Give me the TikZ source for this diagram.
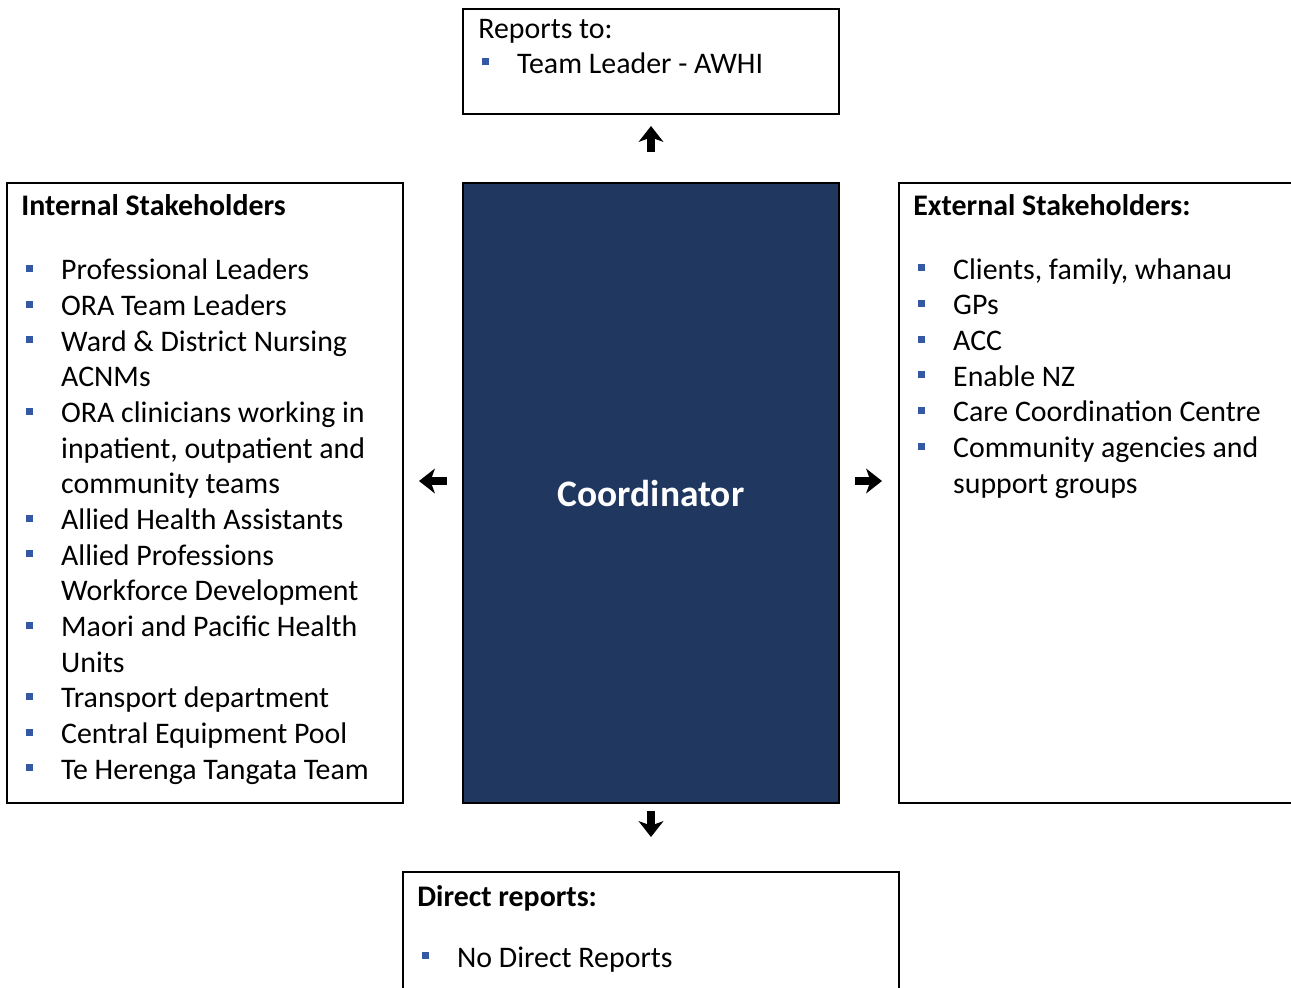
\documentclass[tikz,border=0pt]{standalone}
\usepackage{fontspec}
\setmainfont{Carlito}
\usetikzlibrary{arrows.meta}
\definecolor{navy}{HTML}{20375F}
\definecolor{bulletblue}{HTML}{3558A5}
\newcommand{\sqb}{\makebox[20.4pt][l]{\hspace*{0.3pt}\textcolor{bulletblue}{\rule[4.3pt]{4pt}{4pt}}}}
\newcommand{\hang}{\hspace*{20.4pt}}
\begin{document}
\begin{tikzpicture}[x=0.02cm,y=-0.02cm,
    box/.style={draw=black, line width=1.3pt},
    txt/.style={anchor=base west, inner sep=0pt, align=left,
      font=\fontsize{17pt}{20.3pt}\selectfont},
    bigarrow/.style={line width=4pt,
      -{Stealth[length=9pt,width=14pt,inset=2.5pt]}}]
  \useasboundingbox (0,0) rectangle (1291,987);
  \clip (0,0) rectangle (1291,987);
  % boxes
  \coordinate (RT) at (463,9);
  \coordinate (RB) at (839,114);
  \coordinate (IT) at (7,183);
  \coordinate (IB) at (403,803);
  \coordinate (CT) at (463,183);
  \coordinate (CB) at (839,803);
  \coordinate (ET) at (899,183);
  \coordinate (EB) at (1320,803);
  \coordinate (DT) at (403,872);
  \coordinate (DB) at (899,1010);
  \draw[box] (RT) rectangle (RB);
  \draw[box] (IT) rectangle (IB);
  \draw[box, fill=navy] (CT) rectangle (CB);
  \draw[box] (ET) rectangle (EB);
  \draw[box] (DT) rectangle (DB);
  % arrows
  \coordinate (upS) at (651,152);
  \coordinate (upE) at (651,126);
  \coordinate (dnS) at (651,811);
  \coordinate (dnE) at (651,837);
  \coordinate (lfS) at (447,481);
  \coordinate (lfE) at (419,481);
  \coordinate (rtS) at (855,481);
  \coordinate (rtE) at (882,481);
  \draw[bigarrow] (upS) -- (upE);
  \draw[bigarrow] (dnS) -- (dnE);
  \draw[bigarrow] (lfS) -- (lfE);
  \draw[bigarrow] (rtS) -- (rtE);
  % texts (base anchor = last line)
  \node[txt] (rephead) at (478,38) {Reports to:};
  \node[txt] (replist) at (481,73) {\sqb Team Leader - AWHI};
  \node[txt, font=\fontsize{17pt}{20.3pt}\selectfont\bfseries] (inthead) at (21,215) {Internal Stakeholders};
  \node[txt] (intlist) at (25,779) {\sqb Professional Leaders\\
    \sqb ORA Team Leaders\\
    \sqb Ward \& District Nursing\\
    \hang ACNMs\\
    \sqb ORA clinicians working in\\
    \hang inpatient, outpatient and\\
    \hang community teams\\
    \sqb Allied Health Assistants\\
    \sqb Allied Professions\\
    \hang Workforce Development\\
    \sqb Maori and Pacific Health\\
    \hang Units\\
    \sqb Transport department\\
    \sqb Central Equipment Pool\\
    \sqb Te Herenga Tangata Team};
  \node[font=\fontsize{21.3pt}{25pt}\selectfont\bfseries, text=white, inner sep=0pt] (role) at (651,494) {Coordinator};
  \node[txt, font=\fontsize{17pt}{20.3pt}\selectfont\bfseries] (exthead) at (913,215) {External Stakeholders:};
  \node[txt] (extlist) at (917,493) {\sqb Clients, family, whanau\\
    \sqb GPs\\
    \sqb ACC\\
    \sqb Enable NZ\\
    \sqb Care Coordination Centre\\
    \sqb Community agencies and\\
    \hang support groups};
  \node[txt, font=\fontsize{17pt}{20.3pt}\selectfont\bfseries] (dirhead) at (417,906) {Direct reports:};
  \node[txt] (dirlist) at (421,967) {\sqb No Direct Reports};
\end{tikzpicture}
\end{document}
